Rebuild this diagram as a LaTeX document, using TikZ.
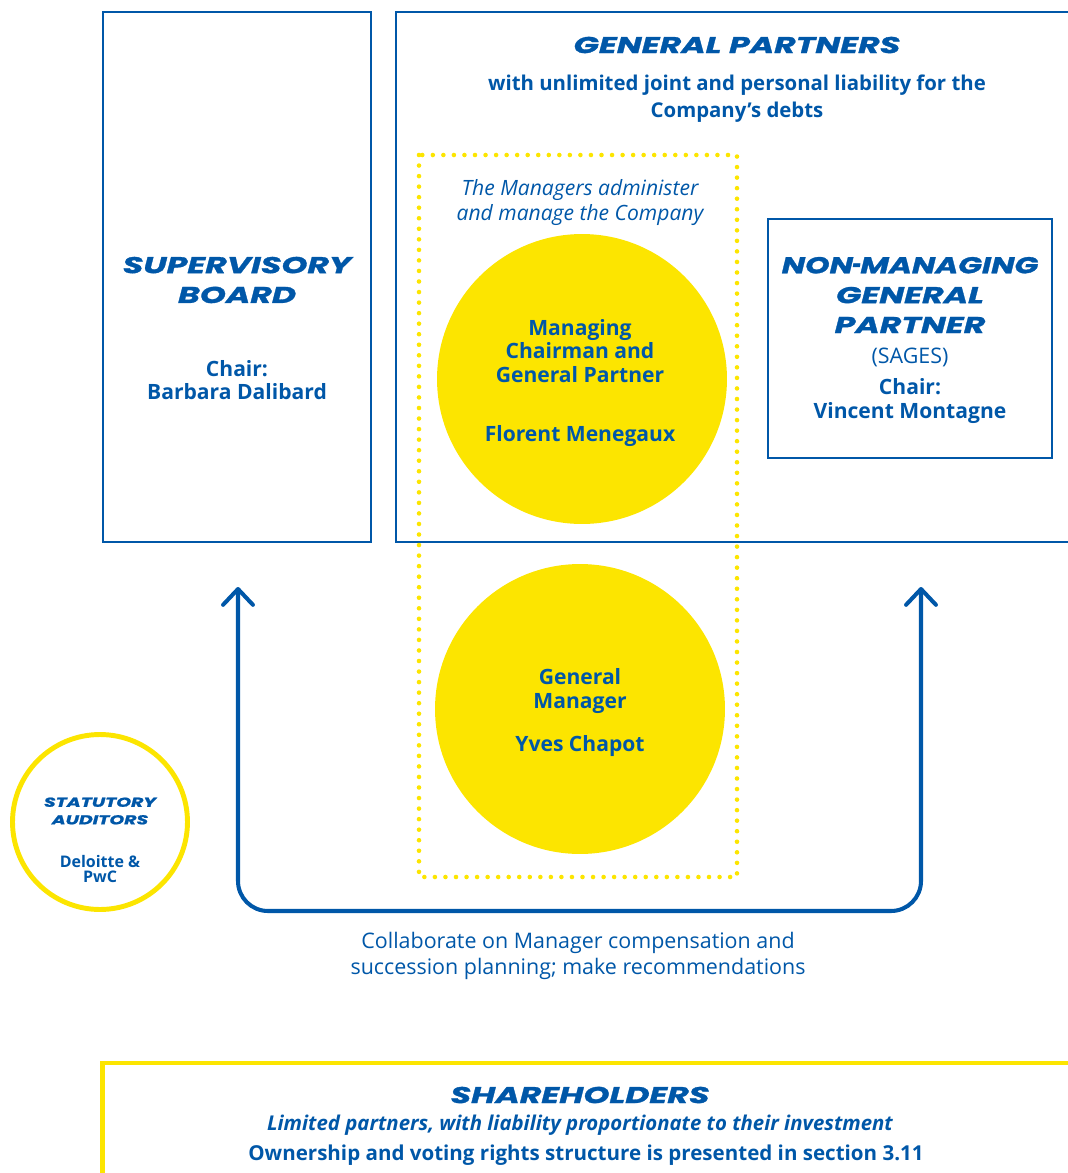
\documentclass[tikz,border=0pt]{standalone}
\usepackage{fontspec}
\setmainfont{Open Sans}
\newfontfamily\headfont{Poppins}[FakeStretch=1.45, BoldItalicFeatures={FakeBold=1.3}]
\usetikzlibrary{arrows.meta, positioning}

\definecolor{govblue}{HTML}{0057A8}
\definecolor{govyellow}{HTML}{FCE500}

\newcommand{\shorthyph}{\kern-0.5pt\scalebox{0.5}[1]{-}\kern-0.5pt}

\tikzset{
	bluebox/.style={draw=govblue, line width=0.85pt, inner sep=0pt},
	yellowdisc/.style={circle, fill=govyellow, inner sep=0pt, minimum size=5.8cm},
	heading/.style={text=govblue, align=center, inner sep=0pt, font=\headfont\bfseries\itshape\fontsize{13}{17}\selectfont},
	smallheading/.style={heading, font=\headfont\bfseries\itshape\fontsize{7.4}{10}\selectfont},
	boldtext/.style={text=govblue, align=center, inner sep=0pt, font=\bfseries\fontsize{12}{13.4}\selectfont},
	plaintext/.style={text=govblue, align=center, inner sep=0pt, font=\fontsize{12.2}{14.7}\selectfont},
	slanttext/.style={plaintext, font=\itshape\fontsize{12}{14.2}\selectfont},
	flow/.style={draw=govblue, line width=2.3pt, rounded corners=0.6cm, line cap=round,
		{Straight Barb[length=9pt, width=17pt, line cap=round, line join=round]}-{Straight Barb[length=9pt, width=17pt, line cap=round, line join=round]}}
}

\begin{document}
\begin{tikzpicture}[x=0.02cm, y=-0.02cm]

	\useasboundingbox (0,0) rectangle (1068,1173);
	\clip (0,0) rectangle (1068,1173);

	% boxes
	\node [bluebox, minimum width=5.36cm, minimum height=10.6cm]	(sboard)	at (237,277)	{};
	\node [bluebox, minimum width=14cm, minimum height=10.6cm]	(gpartners)	at (746,277)	{};
	\node [bluebox, minimum width=5.68cm, minimum height=4.78cm]	(nmgp)		at (910,338.5)	{};
	\node [draw=govyellow, line width=2.8pt, minimum width=20cm, minimum height=3cm, inner sep=0pt]	(holders)	at (602,1138)	{};

	% managers
	\node [yellowdisc]	(chairman)	at (582,379)	{};
	\node [yellowdisc]	(gmanager)	at (580,709)	{};
	\draw [govyellow, line width=2.6pt, line cap=round, dash pattern=on 0pt off 6pt] (419,155) rectangle (737,877);

	\node [circle, draw=govyellow, line width=2.8pt, minimum size=3.5cm, inner sep=0pt]	(auditors)	at (100,822)	{};

	% texts
	\node [heading]		(sbtitle)	at (237,280)	{SUPERVISORY\\BOARD};
	\node [boldtext]	(sbchair)	at (237,380)	{Chair:\\Barbara Dalibard};

	\node [heading]		(gptitle)	at (737,45)		{GENERAL PARTNERS};
	\node [boldtext, font=\bfseries\fontsize{11.6}{15.3}\selectfont]	(gpnote)	at (737,99)	{with unlimited joint and personal liability for the\\Company’s debts};

	\node [slanttext]	(mgrnote)	at (580,203)	{The Managers administer\\and manage the Company};
	\node [boldtext]	(chrole)	at (580,351)	{Managing\\Chairman and\\General Partner};
	\node [boldtext]	(chname)	at (580,436)	{Florent Menegaux};
	\node [boldtext]	(gmrole)	at (580,691)	{General\\Manager};
	\node [boldtext]	(gmname)	at (580,746)	{Yves Chapot};

	\node [heading]		(nmtitle)	at (910,295)	{\scalebox{0.94}[1]{NON\shorthyph MANAGING}\\GENERAL\\PARTNER};
	\node [plaintext]	(nmsages)	at (910,357)	{(SAGES)};
	\node [boldtext]	(nmchair)	at (910,401)	{Chair:\\Vincent Montagne};

	\node [smallheading]	(autitle)	at (100,811)	{STATUTORY\\AUDITORS};
	\node [boldtext, font=\bfseries\fontsize{9.1}{8.5}\selectfont]	(aunames)	at (100,869)	{Deloitte \&\\PwC};

	\node [plaintext]	(collab)	at (578,956)	{Collaborate on Manager compensation and\\succession planning; make recommendations};

	\node [heading]		(shtitle)	at (580,1095)	{SHAREHOLDERS};
	\node [slanttext, font=\bfseries\itshape\fontsize{11.6}{12}\selectfont]	(shnote)	at (580,1125)	{Limited partners, with liability proportionate to their investment};
	\node [boldtext, font=\bfseries\fontsize{11.7}{12}\selectfont]	(shsection)	at (586,1155)	{Ownership and voting rights structure is presented in section 3.11};

	% connector
	\coordinate (sbarrow)	at (238,587);
	\coordinate (nmarrow)	at (921,587);
	\coordinate (bend)		at (580,911);
	\draw [flow] (sbarrow) -- (sbarrow |- bend) -- (nmarrow |- bend) -- (nmarrow);

\end{tikzpicture}
\end{document}
